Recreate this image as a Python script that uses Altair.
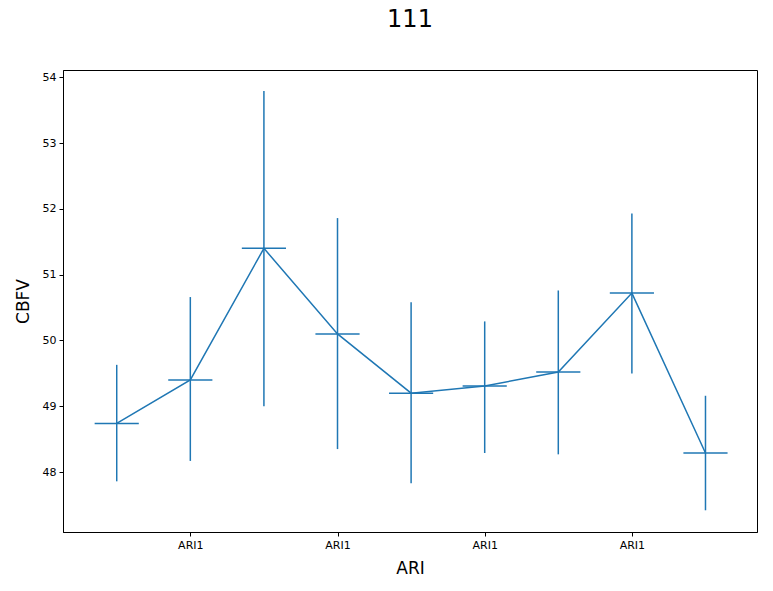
import altair as alt
import pandas as pd

xs = [0, 1, 2, 3, 4, 5, 6, 7, 8]
means = [48.74, 49.40, 51.40, 50.10, 49.20, 49.31, 49.52, 50.72, 48.29]
lows = [47.86, 48.17, 49.00, 48.35, 47.83, 48.29, 48.27, 49.50, 47.42]
highs = [49.63, 50.66, 53.79, 51.86, 50.58, 50.29, 50.76, 51.93, 49.16]
tick_pos = [1, 3, 5, 7]

df = pd.DataFrame({"x": xs, "m": means, "lo": lows, "hi": highs})
color = "#1f77b4"
font = "DejaVu Sans"

xscale = alt.Scale(domain=[-0.73, 8.70], nice=False, zero=False)
yscale = alt.Scale(domain=[47.09, 54.11], nice=False, zero=False)
xaxis = alt.Axis(values=tick_pos, labelExpr="'ARI1'", grid=False, title="ARI",
                 titleFontSize=17, titleFontWeight="normal", labelFontSize=11,
                 labelColor="black", tickColor="black", domainColor="black",
                 tickSize=4, labelPadding=3, titlePadding=10, labelFont=font, titleFont=font)
yaxis = alt.Axis(values=list(range(48, 55)), format="d", grid=False, title="CBFV",
                 titleFontSize=17, titleFontWeight="normal", labelFontSize=11,
                 labelColor="black", tickColor="black", domainColor="black",
                 tickSize=4, labelPadding=3, titlePadding=10, labelFont=font, titleFont=font)

base = alt.Chart(df)
line = base.mark_line(color=color, strokeWidth=1.5).encode(
    x=alt.X("x:Q", scale=xscale, axis=xaxis),
    y=alt.Y("m:Q", scale=yscale, axis=yaxis),
)
vbars = base.mark_rule(color=color, strokeWidth=1.5).encode(
    x="x:Q", y="lo:Q", y2="hi:Q"
)
caps = base.transform_calculate(
    xl="datum.x - 0.3", xr="datum.x + 0.3"
).mark_rule(color=color, strokeWidth=1.5).encode(
    x="xl:Q", x2="xr:Q", y="m:Q"
)

chart = alt.layer(line, vbars, caps).properties(
    width=694, height=462,
    autosize=alt.AutoSizeParams(type="none"),
    padding={"left": 55, "top": 62, "right": 8, "bottom": 51},
    title=alt.Title("111", fontSize=24, fontWeight="normal", font=font,
                    anchor="middle", offset=38, color="black"),
).configure_view(stroke="black", strokeWidth=1)

chart.save("out.html", embed_options={"renderer": "svg", "actions": False})
